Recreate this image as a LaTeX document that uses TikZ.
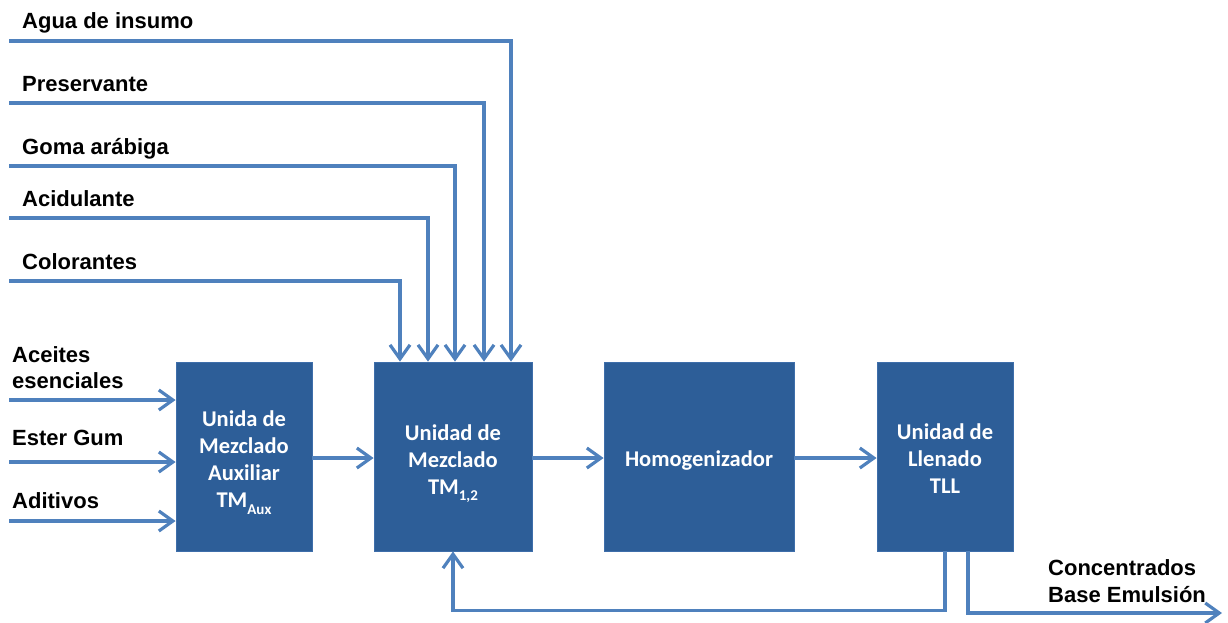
\documentclass[tikz,border=0pt]{standalone}
\usepackage{fontspec}
\setmainfont{Liberation Sans}
\newfontfamily\boxfont{Carlito}
\usetikzlibrary{arrows.meta}
\definecolor{linec}{HTML}{4F81BD}
\definecolor{boxc}{HTML}{2D5E98}
\definecolor{boxe}{HTML}{3E6EAA}
\newcommand\lowsub[1]{\raisebox{-0.3em}{\fontsize{15}{15}\selectfont #1}}
\begin{document}
\begin{tikzpicture}[x=1pt,y=-1pt,
  unitbox/.style={rectangle, fill=boxc, draw=boxe, line width=0.8pt, inner sep=0pt, minimum height=189pt},
  boxtext/.style={text=white, font=\boxfont\bfseries\fontsize{22.5}{27}\selectfont, align=center, inner sep=0pt},
  lbl/.style={anchor=base west, font=\bfseries\fontsize{22}{26}\selectfont, inner sep=0pt},
  lblm/.style={anchor=north west, font=\bfseries\fontsize{22}{26}\selectfont, inner sep=0pt, align=left},
  arr/.style={draw=linec, line width=3.2pt, -{Straight Barb[length=14pt,width=20pt]}},
  flow/.style={draw=linec, line width=3.2pt}]
\useasboundingbox (0,0) rectangle (1228,622);

% boxes
\node[unitbox, minimum width=136pt] (aux) at (244,456.5) {};
\node[unitbox, minimum width=158pt] (tm) at (453,456.5) {};
\node[unitbox, minimum width=190pt] (hom) at (699,456.5) {};
\node[unitbox, minimum width=136pt] (tll) at (945,456.5) {};

% box texts
\node[boxtext, yshift=-6pt] (auxt) at (aux.center) {Unida de\\Mezclado\\Auxiliar\\TM\lowsub{Aux}};
\node[boxtext, yshift=-7pt] (tmt) at (tm.center) {Unidad de\\Mezclado\\TM\lowsub{1,2}};
\node[boxtext, yshift=-4pt] (homt) at (hom.center) {Homogenizador};
\node[boxtext, yshift=-2pt] (tllt) at (tll.center) {Unidad de\\Llenado\\TLL};

% top labels
\node[lbl] (lAgua) at (22,28) {Agua de insumo};
\node[lbl] (lPres) at (22,91) {Preservante};
\node[lbl] (lGoma) at (22,154) {Goma arábiga};
\node[lbl] (lAcid) at (22,206) {Acidulante};
\node[lbl] (lColor) at (22,269) {Colorantes};

% left labels
\node[lblm] (lAce) at (12,346.3) {Aceites\\esenciales};
\node[lbl] (lEster) at (12,445) {Ester Gum};
\node[lbl] (lAdit) at (12,508) {Aditivos};

% output label
\node[lblm, font=\bfseries\fontsize{22}{27}\selectfont] (lOut) at (1048,559.3) {Concentrados\\Base Emulsión};

% input start points
\coordinate (inAgua) at (9,41);
\coordinate (inPres) at (9,103);
\coordinate (inGoma) at (9,166);
\coordinate (inAcid) at (9,218);
\coordinate (inColor) at (9,281);
\coordinate (inAce) at (9,400);
\coordinate (inEster) at (9,462);
\coordinate (inAdit) at (9,521);
\coordinate (outEnd) at (1222,613);

% top inputs to TM
\draw[arr] (inAgua) -| (511,0 |- tm.north);
\draw[arr] (inPres) -| (484,0 |- tm.north);
\draw[arr] (inGoma) -| (455,0 |- tm.north);
\draw[arr] (inAcid) -| (428,0 |- tm.north);
\draw[arr] (inColor) -| (400,0 |- tm.north);

% left inputs to aux
\draw[arr] (inAce) -- (inAce -| aux.west);
\draw[arr] (inEster) -- (inEster -| aux.west);
\draw[arr] (inAdit) -- (inAdit -| aux.west);

% chain
\draw[arr] (aux.east |- 0,458) -- (tm.west |- 0,458);
\draw[arr] (tm.east |- 0,458) -- (hom.west |- 0,458);
\draw[arr] (hom.east |- 0,458) -- (tll.west |- 0,458);

% feedback and output
\draw[arr] (tll.south) -- ++(0,59) -| (tm.south);
\draw[arr] (968,0 |- tll.south) |- (outEnd);
\end{tikzpicture}
\end{document}
